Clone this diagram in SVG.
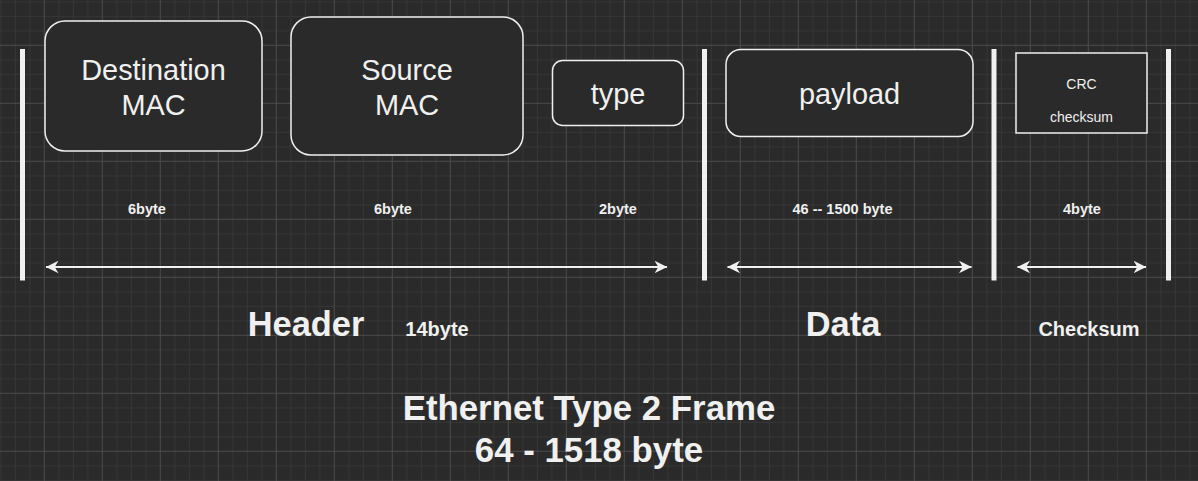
<svg xmlns="http://www.w3.org/2000/svg" width="1198" height="481" viewBox="0 0 1198 481">
<defs>
<pattern id="grid" x="43.8" y="44.8" width="58" height="58" patternUnits="userSpaceOnUse">
<rect x="0" y="0" width="58" height="58" fill="#2a2a2a"/>
<g fill="#363636">
<rect x="14.5" y="0" width="1" height="58"/>
<rect x="29" y="0" width="1" height="58"/>
<rect x="43.5" y="0" width="1" height="58"/>
<rect x="0" y="14.5" width="58" height="1"/>
<rect x="0" y="29" width="58" height="1"/>
<rect x="0" y="43.5" width="58" height="1"/>
</g>
<g fill="#4b4b4b">
<rect x="0" y="0" width="1" height="58"/>
<rect x="0" y="0" width="58" height="1"/>
</g>
</pattern>
<marker id="ah" viewBox="0 0 13 13" refX="12.5" refY="6.5" markerWidth="13" markerHeight="13" markerUnits="userSpaceOnUse" orient="auto-start-reverse">
<path d="M12.7,6.5 L0,0.2 L3.8,6.5 L0,12.8 Z" fill="#f0f0f0"/>
</marker>
<style>
.box{fill:#2a2a2a;stroke:#f0f0f0;stroke-width:1.5}
.bar{fill:#f0f0f0}
.t{font-family:"Liberation Sans",Arial,sans-serif;fill:#f0f0f0;text-anchor:middle}
.big{font-size:28.9px}
.sm{font-size:14px}
.b14{font-size:14.5px;font-weight:bold}
.b20{font-size:20px;font-weight:bold}
.b33{font-size:34.4px;font-weight:bold}
.b35{font-size:34.8px;font-weight:bold}
.arr{stroke:#f0f0f0;stroke-width:2;fill:none;marker-start:url(#ah);marker-end:url(#ah)}
</style>
</defs>
<rect x="0" y="0" width="1198" height="481" fill="url(#grid)"/>

<g id="bars">
<rect class="bar" x="20" y="49" width="5" height="231.5"/>
<rect class="bar" x="702" y="49" width="5" height="231.5"/>
<rect class="bar" x="991.5" y="49" width="5" height="231.5"/>
<rect class="bar" x="1166" y="49" width="5" height="231.5"/>
</g>

<g id="dest-mac">
<rect class="box" x="45" y="21" width="217" height="130" rx="20"/>
<text class="t big" x="153.5" y="80">Destination</text>
<text class="t big" x="153.5" y="115">MAC</text>
</g>
<g id="src-mac">
<rect class="box" x="291" y="17" width="232" height="138" rx="20"/>
<text class="t big" x="407" y="80">Source</text>
<text class="t big" x="407" y="115">MAC</text>
</g>
<g id="type">
<rect class="box" x="552.5" y="60.5" width="131" height="65" rx="10"/>
<text class="t big" x="618" y="104">type</text>
</g>
<g id="payload">
<rect class="box" x="726" y="49.5" width="247" height="87" rx="15"/>
<text class="t big" x="849.5" y="104">payload</text>
</g>
<g id="crc">
<rect class="box" x="1016" y="53" width="131" height="80"/>
<text class="t sm" x="1081.5" y="88.5">CRC</text>
<text class="t sm" x="1081.5" y="122">checksum</text>
</g>

<g id="sizes">
<text class="t b14" x="147" y="214">6byte</text>
<text class="t b14" x="393" y="214">6byte</text>
<text class="t b14" x="618" y="214">2byte</text>
<text class="t b14" x="842.5" y="214">46 -- 1500 byte</text>
<text class="t b14" x="1082" y="214">4byte</text>
</g>

<g id="connectors">
<line class="arr" x1="46" y1="267" x2="667" y2="267"/>
<line class="arr" x1="727.5" y1="267" x2="971.5" y2="267"/>
<line class="arr" x1="1017.5" y1="267" x2="1146" y2="267"/>
</g>

<g id="labels">
<text class="t b33" x="306" y="336">Header</text>
<text class="t b20" x="437" y="336">14byte</text>
<text class="t b33" x="843" y="336">Data</text>
<text class="t b20" x="1089" y="336">Checksum</text>
</g>

<g id="title">
<text class="t b35" x="589" y="420">Ethernet Type 2 Frame</text>
<text class="t b35" x="589" y="461.5">64 - 1518 byte</text>
</g>
</svg>
